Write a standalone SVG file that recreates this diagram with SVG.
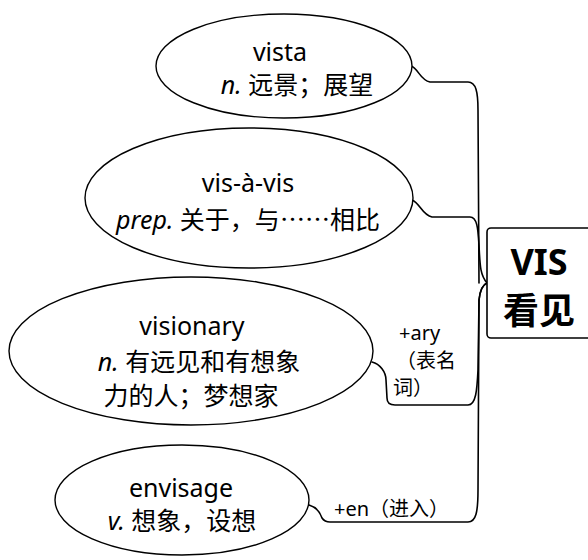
<svg xmlns="http://www.w3.org/2000/svg" width="588" height="560" viewBox="0 0 588 560">
<style>
.n{fill:#fff;stroke:#000;stroke-width:1.4}
.t{font-family:"Noto Sans","Noto Sans CJK SC",sans-serif;font-size:25px;fill:#000;text-anchor:middle}
.l{font-family:"Noto Sans","Noto Sans CJK SC",sans-serif;font-size:20px;fill:#000}
.c{fill:none;stroke:#000;stroke-width:1.6;stroke-linecap:round;stroke-linejoin:round}
.b{font-family:"Noto Sans","Noto Sans CJK SC",sans-serif;font-size:36px;font-weight:bold;fill:#000;text-anchor:middle}
.cjk{font-family:"Noto Sans CJK SC",sans-serif}
</style>
<rect width="588" height="560" fill="#fff"/>
<g id="connectors">
<path class="c" d="M411,66 C418,68 420,80 430,82 L468,82 C476,82 478,92 478,110 L479,283"/>
<path class="c" d="M412,200 C420,203 422,215 432,217 L470,217 C477,217 478,228 479,245 C480,265 480,275 487,283"/>
<path class="c" d="M372,362 C380,364 386,372 386,380 L387,398 C387,403 390,405 395,405 L468,405 C476,405 477,390 478,370 L479,300 C480,290 482,285 487,283"/>
<path class="c" d="M309,505 C316,507 320,512 322,518 C324,521 326,522 330,522 L468,522 C476,522 478,512 478,490 L479,300 C480,290 482,285 487,283"/>
</g>
<g id="vista">
<ellipse class="n" cx="284" cy="66" rx="128" ry="52"/>
<text class="t" x="280" y="61">vista</text>
<text class="t" x="297" y="94"><tspan font-style="italic">n.</tspan> 远景；展望</text>
</g>
<g id="vis-a-vis">
<ellipse class="n" cx="249" cy="198" rx="164" ry="70"/>
<text class="t" x="248" y="192">vis-à-vis</text>
<text class="t" x="248" y="229"><tspan font-style="italic">prep.</tspan> 关于，与<tspan class="cjk">……</tspan>相比</text>
</g>
<g id="visionary">
<ellipse class="n" cx="191" cy="351" rx="182" ry="74"/>
<text class="t" x="192" y="335">visionary</text>
<text class="t" x="199" y="371"><tspan font-style="italic">n.</tspan> 有远见和有想象</text>
<text class="t" x="191" y="405">力的人；梦想家</text>
</g>
<g id="envisage">
<ellipse class="n" cx="182" cy="500" rx="127" ry="55"/>
<text class="t" x="181" y="497">envisage</text>
<text class="t" x="182" y="530"><tspan font-style="italic">v.</tspan> 想象，设想</text>
</g>
<g id="labels">
<text class="l" x="399" y="340">+ary</text>
<text class="l" x="396" y="368">（表名</text>
<text class="l" x="393" y="395">词）</text>
<text class="l" x="334" y="516">+en（进入）</text>
</g>
<g id="vis">
<rect x="487" y="228" width="110" height="110" rx="4" fill="#fff" stroke="#000" stroke-width="1.6"/>
<text class="b" x="539" y="275">VIS</text>
<text class="b" x="539" y="324">看见</text>
</g>
</svg>
